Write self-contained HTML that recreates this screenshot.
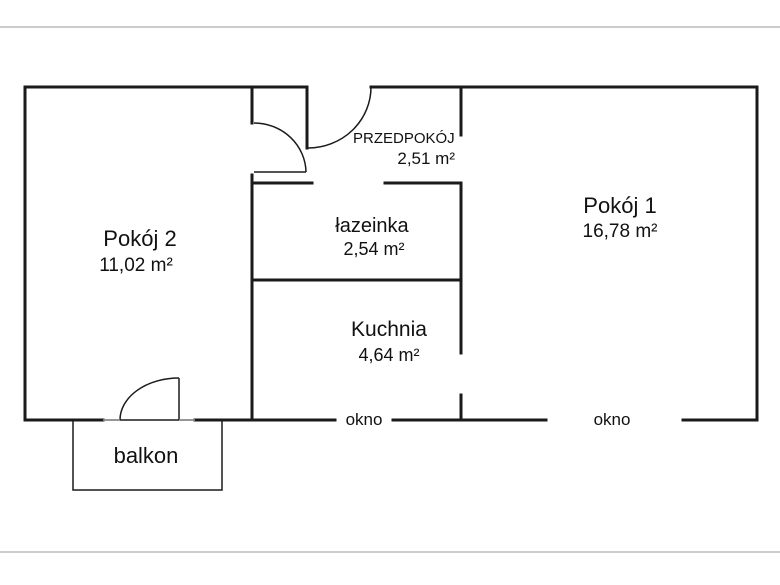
<!DOCTYPE html>
<html><head><style>
body{margin:0;background:#fff}
svg text{font-family:"Liberation Sans",sans-serif;fill:#111}
</style></head><body>
<svg width="780" height="580" viewBox="0 0 780 580" xmlns="http://www.w3.org/2000/svg">
<line x1="0" y1="27" x2="780" y2="27" stroke="#999" stroke-width="1"/>
<line x1="0" y1="552" x2="780" y2="552" stroke="#999" stroke-width="1"/>
<g stroke="#1a1a1a" stroke-width="3" fill="none" stroke-linecap="square">
<polyline points="103,420 25,420 25,87 306,87"/>
<polyline points="371,87 757,87 757,420 683,420"/>
<line x1="546" y1="420" x2="393" y2="420"/>
<line x1="335" y1="420" x2="195" y2="420"/>
<line x1="252" y1="87" x2="252" y2="123"/>
<line x1="252" y1="175" x2="252" y2="420"/>
<line x1="307" y1="87" x2="307" y2="148"/>
<line x1="461" y1="87" x2="461" y2="135"/>
<line x1="254" y1="183" x2="312" y2="183"/>
<polyline points="385,183 461,183 461,280"/>
<line x1="252" y1="280" x2="461" y2="280"/>
<line x1="461" y1="280" x2="461" y2="353"/>
<line x1="461" y1="395" x2="461" y2="420"/>
</g>
<g stroke="#1a1a1a" stroke-width="1.5" fill="none">
<path d="M254,123 A52,50 0 0 1 306,172"/>
<line x1="254" y1="172" x2="306" y2="172"/>
<path d="M371,87 A63,61 0 0 1 308,148"/>
<path d="M120,420 A59,42 0 0 1 179,378"/>
<line x1="179" y1="378" x2="179" y2="420"/>
<rect x="73" y="420" width="149" height="70"/>
</g>
<g stroke="#999" stroke-width="1.5"><line x1="103" y1="420" x2="120" y2="420"/><line x1="179" y1="420" x2="195" y2="420"/></g>
<text x="140" y="246" font-size="22" text-anchor="middle">Pokój 2</text>
<text x="136" y="271" font-size="19" text-anchor="middle">11,02 m²</text>
<text x="620" y="213" font-size="22" text-anchor="middle">Pokój 1</text>
<text x="620" y="237" font-size="19" text-anchor="middle">16,78 m²</text>
<text x="372" y="232" font-size="20" text-anchor="middle">łazeinka</text>
<text x="374" y="255" font-size="18" text-anchor="middle">2,54 m²</text>
<text x="389" y="336" font-size="21" text-anchor="middle">Kuchnia</text>
<text x="389" y="361" font-size="18" text-anchor="middle">4,64 m²</text>
<text x="353" y="143" font-size="15">PRZEDPOKÓJ</text>
<text x="455" y="164" font-size="17" text-anchor="end">2,51 m²</text>
<text x="364" y="425" font-size="17" text-anchor="middle">okno</text>
<text x="612" y="425" font-size="17" text-anchor="middle">okno</text>
<text x="146" y="463" font-size="22" text-anchor="middle">balkon</text>
</svg>
</body></html>
